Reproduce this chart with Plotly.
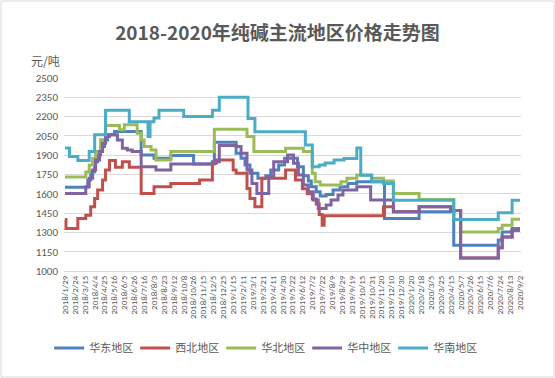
import plotly.graph_objects as go

# ---- data ----
dates = ["2018/1/29", "2018/2/24", "2018/3/15", "2018/4/4", "2018/4/25", "2018/5/16",
         "2018/6/5", "2018/6/26", "2018/7/16", "2018/8/3", "2018/8/23", "2018/9/12",
         "2018/10/8", "2018/10/26", "2018/11/15", "2018/12/5", "2018/12/25", "2019/1/15",
         "2019/2/11", "2019/3/1", "2019/3/21", "2019/4/11", "2019/4/30", "2019/5/22",
         "2019/6/12", "2019/7/2", "2019/7/22", "2019/8/9", "2019/8/29", "2019/9/19",
         "2019/10/15", "2019/10/31", "2019/11/20", "2019/12/10", "2019/12/30", "2020/1/20",
         "2020/2/18", "2020/3/5", "2020/3/25", "2020/4/15", "2020/5/7", "2020/5/26",
         "2020/6/15", "2020/7/6", "2020/7/24", "2020/8/13", "2020/9/2"]

# change points: period index (in units of the date labels above) and price
east_x = [0, 2.3, 2.6, 3.0, 3.3, 3.6, 4.0, 4.3, 5.0, 7.7, 9.0, 10.7, 13.0, 15.1, 17.3, 17.8,
          18.2, 18.7, 19.5, 20.3, 20.8, 21.6, 22.2, 23.5, 24.1, 24.6, 24.9, 25.4, 25.8, 26.4,
          27.1, 27.8, 28.6, 29.5, 32.3, 35.8, 39.3, 43.8, 44.2, 45.2, 46]
east_y = [1650, 1707, 1772, 1850, 1902, 1967, 2019, 2058, 2084, 1902, 1876, 1897, 1832, 2000,
          1915, 1876, 1824, 1759, 1720, 1740, 1785, 1824, 1876, 1811, 1740, 1700, 1655, 1616,
          1582, 1595, 1629, 1655, 1681, 1694, 1408, 1460, 1200, 1240, 1304, 1330, 1330]

northwest_x = [0, 0.1, 1.3, 2.1, 2.6, 3.0, 3.3, 3.8, 4.1, 4.5, 5.1, 5.8, 6.5, 7.7, 9.0, 10.7,
               13.6, 14.9, 15.3, 17.0, 17.3, 18.4, 18.7, 19.2, 19.9, 22.3, 23.3, 24.0, 24.5,
               25.0, 25.4, 25.7, 26.0, 26.2, 32.2, 33.2, 35.8, 39.0, 40.0, 43.8, 44.2, 45.2, 46]
northwest_y = [1400, 1330, 1408, 1434, 1499, 1564, 1629, 1707, 1785, 1858, 1806, 1850, 1806,
               1603, 1655, 1681, 1707, 1837, 1863, 1785, 1759, 1642, 1564, 1499, 1720, 1785,
               1707, 1640, 1600, 1560, 1520, 1440, 1356, 1430, 1500, 1460, 1499, 1470, 1101,
               1180, 1265, 1317, 1317]

north_x = [0, 2.1, 2.45, 2.8, 3.1, 3.6, 4.1, 5.5, 6.0, 7.3, 7.7, 8.0, 8.7, 9.2, 10.7, 15.1,
           18.4, 19.1, 22.3, 24.1, 25.0, 25.3, 25.8, 27.9, 28.5, 29.5, 31.0, 32.2, 33.2, 35.8,
           39.3, 40.0, 43.8, 44.2, 45.2, 46]
north_y = [1730, 1770, 1823, 1875, 1928, 2020, 2130, 2097, 2136, 2071, 2019, 1967, 1941, 1863,
           1928, 2102, 2045, 1928, 1954, 1928, 1760, 1694, 1668, 1694, 1720, 1746, 1720, 1700,
           1603, 1556, 1400, 1304, 1330, 1356, 1403, 1403]

central_x = [0, 2.1, 2.45, 2.8, 3.1, 3.5, 3.8, 4.1, 4.5, 5.3, 5.8, 6.3, 6.8, 7.7, 9.2, 10.7,
             14.9, 15.6, 17.3, 17.8, 18.4, 18.9, 19.4, 20.6, 21.1, 22.5, 23.1, 23.6, 24.1, 24.6,
             25.1, 25.6, 26.4, 26.9, 27.6, 28.1, 29.5, 30.9, 33.2, 35.8, 39.0, 40.0, 43.8,
             44.2, 45.2, 46]
central_y = [1603, 1655, 1720, 1785, 1863, 1928, 1993, 2045, 2058, 2019, 1954, 1941, 1928, 1811,
             1785, 1832, 1850, 1975, 1967, 1915, 1785, 1681, 1603, 1733, 1850, 1902, 1837, 1746,
             1668, 1616, 1551, 1486, 1512, 1551, 1590, 1629, 1655, 1551, 1460, 1499, 1470, 1101,
             1180, 1265, 1317, 1317]

south_x = [0, 0.45, 1.3, 2.45, 3.0, 4.1, 6.5, 8.4, 8.6, 9.0, 9.5, 12.0, 14.9, 15.6, 18.5, 19.2,
           24.3, 25.0, 25.7, 26.3, 27.2, 28.2, 29.5, 29.9, 31.0, 32.2, 33.2, 39.3, 43.8, 45.2, 46]
south_y = [1955, 1890, 1858, 1928, 2058, 2250, 2160, 2045, 2160, 2190, 2250, 2200, 2250, 2350,
           2185, 2083, 1980, 1810, 1823, 1840, 1862, 1875, 1955, 1745, 1694, 1681, 1550, 1400,
           1452, 1550, 1550]

series = [
    ("华东地区", east_x, east_y, "#4F81BD"),
    ("西北地区", northwest_x, northwest_y, "#C0504D"),
    ("华北地区", north_x, north_y, "#9BBB59"),
    ("华中地区", central_x, central_y, "#8064A2"),
    ("华南地区", south_x, south_y, "#4BACC6"),
]

FONT = "Noto Sans CJK SC"
NUMFONT = "Carlito, Lato, Noto Sans CJK SC"
GREY = "#595959"

fig = go.Figure()
for name, xs, ys, color in series:
    fig.add_trace(go.Scatter(x=xs, y=ys, name=name, mode="lines",
                             line=dict(color=color, width=3, shape="hv")))

W, H = 555, 378
L, R, T, B = 64, 34, 78, 107
fig.update_layout(
    width=W, height=H,
    margin=dict(l=L, r=R, t=T, b=B),
    paper_bgcolor="white", plot_bgcolor="white",
    title=dict(text="<b>2018-2020年纯碱主流地区价格走势图</b>",
               font=dict(family=FONT, size=19, color=GREY),
               x=0.50, xref="container", xanchor="center",
               y=1 - 33 / H, yref="container", yanchor="middle"),
    legend=dict(orientation="h", x=0.476, xref="container", xanchor="center",
                y=1 - 348 / H, yref="container", yanchor="middle",
                entrywidth=41, entrywidthmode="pixels", itemwidth=30,
                font=dict(family=FONT, size=11, color=GREY)),
    xaxis=dict(range=[-0.1, 46.1], tickmode="array", tickvals=list(range(len(dates))),
               ticktext=dates, tickangle=-90, showgrid=False, zeroline=False,
               showline=True, linecolor="#D9D9D9", linewidth=1,
               tickfont=dict(family=NUMFONT, size=9, color=GREY)),
    yaxis=dict(range=[1000, 2500], tick0=1000, dtick=150, showgrid=True,
               gridcolor="#D9D9D9", gridwidth=1, zeroline=False, showline=False,
               ticklabelstandoff=5,
               tickfont=dict(family=NUMFONT, size=11, color=GREY)),
    annotations=[dict(text="元/吨", xref="paper", yref="paper",
                      x=(45 - L) / (W - L - R), y=(H - B - 61) / (H - T - B),
                      xanchor="center", yanchor="middle", showarrow=False,
                      font=dict(family=FONT, size=12, color=GREY))],
)

pw, ph = W - L - R, H - T - B
fig.add_shape(type="rect", xref="paper", yref="paper",
              x0=(1 - L) / pw, x1=(W - 1 - L) / pw,
              y0=(H - B - (H - 1)) / ph, y1=(H - B - 1) / ph,
              line=dict(color="#D9D9D9", width=1), fillcolor="rgba(0,0,0,0)", layer="below")

fig.write_html("out.html", config={"displayModeBar": False},
               post_script="document.body.style.margin='0px';document.body.style.overflow='hidden';")
